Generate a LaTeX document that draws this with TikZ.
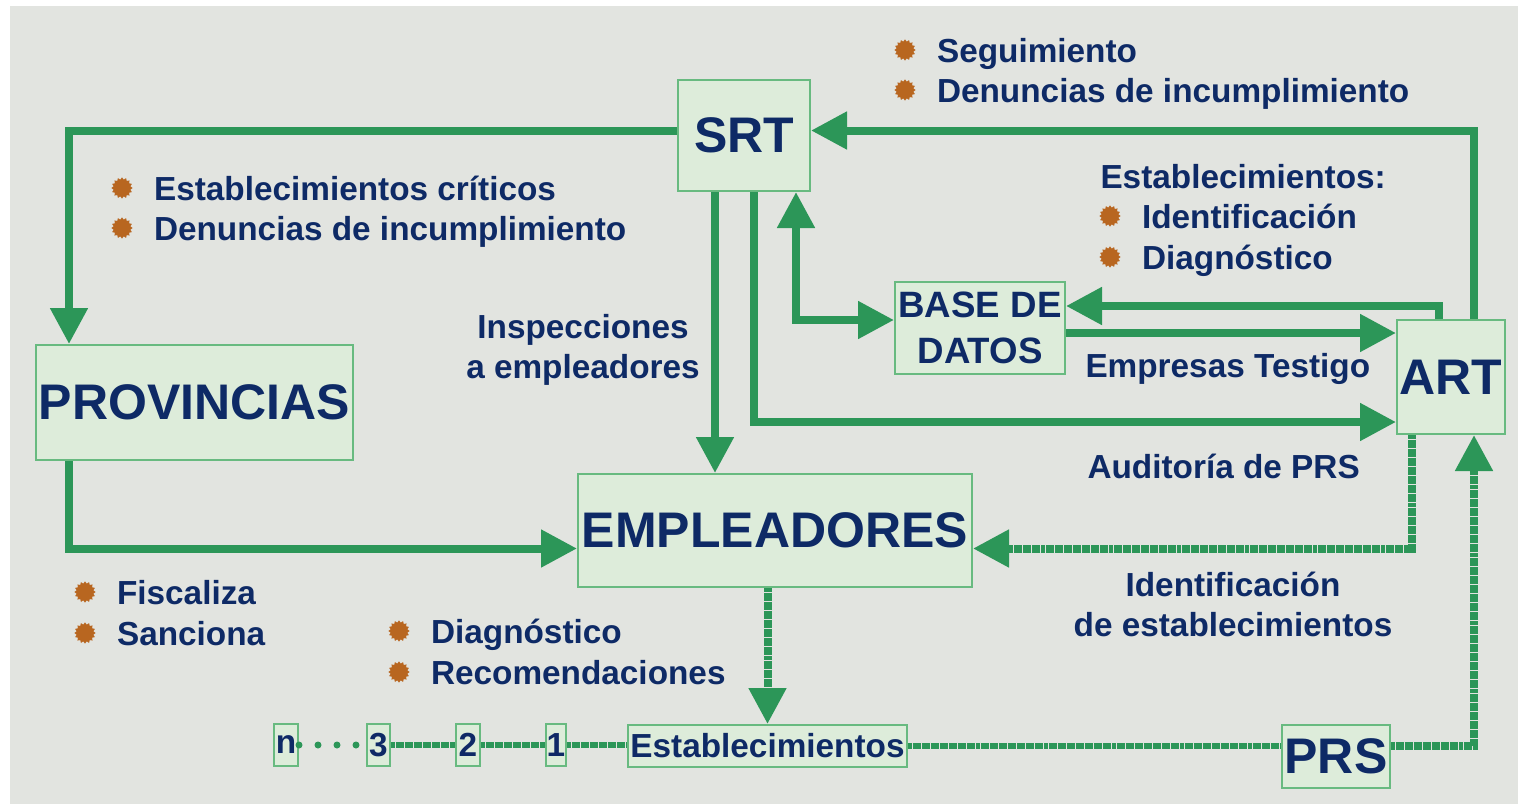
\documentclass[tikz,border=0pt]{standalone}
\usepackage{fontspec}
\setmainfont{Liberation Sans}
\usetikzlibrary{arrows.meta,calc,positioning,shapes.geometric}

\definecolor{bgGrey}{RGB}{226,228,224}
\definecolor{lineGreen}{RGB}{44,150,88}
\definecolor{boxFill}{RGB}{221,236,218}
\definecolor{boxEdge}{RGB}{104,186,128}
\definecolor{txtNavy}{RGB}{14,42,102}
\definecolor{bulBrown}{RGB}{184,102,32}

\newcommand{\fntLbl}{\fontsize{25}{30}\selectfont\bfseries}
\newcommand{\fntBig}{\fontsize{37.5}{40}\selectfont\bfseries}
\newcommand{\fntDb}{\fontsize{27.5}{34}\selectfont\bfseries}
\newcommand{\fntChain}{\fontsize{25}{30}\selectfont\bfseries}

\tikzset{every picture/.style={line width=0.75pt}}
\tikzset{
  >={Triangle[length=27pt,width=27pt]},
  box/.style={draw=boxEdge, fill=boxFill, line width=1.5pt, inner sep=0pt, text=txtNavy, align=center},
  lbl/.style={text=txtNavy, inner sep=0pt, font=\fntLbl, text height=18pt, text depth=0pt},
  lbltwo/.style={text=txtNavy, inner sep=0pt, font=\fntLbl, align=center},
  bul/.style={star, star points=16, star point ratio=1.25, fill=bulBrown, minimum size=16pt, inner sep=0pt},
  flow/.style={draw=lineGreen, line width=6pt, ->},
  dense/.style={dash pattern=on 3pt off 0.4pt},
  chainline/.style={draw=lineGreen, line width=5pt, dense},
  dotline/.style={draw=lineGreen, line width=5.25pt, line cap=round, dash pattern=on 0pt off 14.25pt}
}

\begin{document}
\begin{tikzpicture}[x=0.75pt,y=0.75pt,yscale=-1]
\useasboundingbox (0,0) rectangle (1518,804);
\fill[white] (0,0) rectangle (1518,804);
\fill[bgGrey] (10,6) rectangle (1518,804);

% Boxes
\node[box, font=\fntBig, minimum width=99pt, minimum height=83.25pt] (srt) at (744,135.5) {SRT};
\node[box, font=\fntBig, minimum width=237.75pt, minimum height=86.25pt] (prov) at (194.5,402.5) {PROVINCIAS};
\node[box, font=\fntBig, minimum width=295.5pt, minimum height=84.75pt] (emp) at (775,530.5) {EMPLEADORES};
\node[box, font=\fntDb, minimum width=127.5pt, minimum height=69pt] (db) at (980,328) {BASE DE\\DATOS};
\node[box, font=\fntBig, minimum width=81pt, minimum height=85.5pt] (art) at (1451,377) {ART};
\node[box, font=\fntChain, minimum width=209.25pt, minimum height=31.5pt] (est) at (767.5,746) {Establecimientos};
\node[box, font=\fntBig, minimum width=81pt, minimum height=47.25pt] (prs) at (1336,756.5) {PRS};
\node[box, font=\fntChain, minimum width=18pt, minimum height=31.5pt] (nn) at (286,745) {n};
\node[box, font=\fntChain, minimum width=17.25pt, minimum height=31.5pt] (n3) at (378.5,745) {3};
\node[box, font=\fntChain, minimum width=18pt, minimum height=31.5pt] (n2) at (468,745) {2};
\node[box, font=\fntChain, minimum width=15pt, minimum height=31.5pt] (n1) at (556,745) {1};

% Connectors
\draw[flow] ($(srt.west)+(0,-5)$) -| ($(prov.north west)+(34,0)$);
\draw[flow] ($(prov.south west)+(34,0)$) |- ($(emp.west)+(0,18)$);
\draw[flow] ($(srt.south west)+(38,0)$) coordinate (s1) -- (s1 |- emp.north);
\draw[flow] ($(srt.south west)+(77,0)$) |- ($(art.west)+(0,45)$);
\draw[flow, <->] ($(srt.south west)+(119,0)$) |- ($(db.west)+(0,-8)$);
\draw[flow] ($(art.north west)+(43,0)$) |- ($(db.east)+(0,-22)$);
\draw[flow] ($(db.east)+(0,5)$) coordinate (d1) -- (d1 -| art.west);
\draw[flow] ($(art.north west)+(78,0)$) |- ($(srt.east)+(0,-5)$);
\draw[flow, dense] ($(art.south west)+(16,0)$) |- ($(emp.east)+(0,18)$);
\draw[flow, dense] (est.north |- emp.south) -- (est.north);
\draw[chainline] (est.east) -- (est.east -| prs.west);
\draw[flow, dense] (prs.east |- est.east) -| ($(art.south west)+(78,0)$);
\draw[chainline] (n1.east) -- (n1.east -| est.west);
\draw[chainline] (n2.east) -- (n2.east -| n1.west);
\draw[chainline] (n3.east) -- (n3.east -| n2.west);
\draw[dotline] (nn.east) -- (nn.east -| n3.west);

% Text Node
\node[bul] (bSeg) at (905,50) {};
\node[lbl, right=15pt of bSeg] (tSeg) {Seguimiento};
\node[bul] (bDen) at (905,90) {};
\node[lbl, right=15pt of bDen] (tDen) {Denuncias de incumplimiento};
% Text Node
\node[bul] (bCrit) at (122,188) {};
\node[lbl, right=15pt of bCrit] (tCrit) {Establecimientos críticos};
\node[bul] (bDenP) at (122,228) {};
\node[lbl, right=15pt of bDenP] (tDenP) {Denuncias de incumplimiento};
% Text Node
\node[lbl, anchor=west] (tEstH) at (1100,176) {Establecimientos:};
\node[bul] (bIdent) at (1110,216) {};
\node[lbl, right=15pt of bIdent] (tIdent) {Identificación};
\node[bul] (bDiagA) at (1110,257) {};
\node[lbl, right=15pt of bDiagA] (tDiagA) {Diagnóstico};
% Text Node
\node[lbltwo] (tInsp) at (583,350) {Inspecciones\\a empleadores};
\node[lbl, anchor=west] (tEmpT) at (1085,365) {Empresas Testigo};
\node[lbl, anchor=west] (tAud) at (1087,466) {Auditoría de PRS};
\node[lbltwo] (tIdEst) at (1233,604) {Identificación\\de establecimientos};
% Text Node
\node[bul] (bFisc) at (85,592) {};
\node[lbl, right=15pt of bFisc] (tFisc) {Fiscaliza};
\node[bul] (bSanc) at (85,633) {};
\node[lbl, right=15pt of bSanc] (tSanc) {Sanciona};
% Text Node
\node[bul] (bDiagE) at (399,631) {};
\node[lbl, right=15pt of bDiagE] (tDiagE) {Diagnóstico};
\node[bul] (bRec) at (399,672) {};
\node[lbl, right=15pt of bRec] (tRec) {Recomendaciones};

\end{tikzpicture}
\end{document}
